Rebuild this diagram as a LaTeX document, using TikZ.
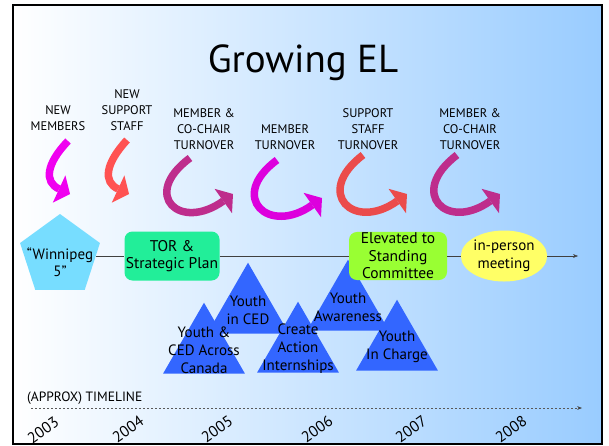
\documentclass[tikz,border=0pt]{standalone}
\usepackage{fontspec}
\setmainfont{PT Sans}
\usetikzlibrary{arrows.meta,shapes.geometric}
\definecolor{bgblue}{RGB}{153,204,255}
\definecolor{wpgcyan}{RGB}{119,221,255}
\definecolor{torgreen}{RGB}{34,238,153}
\definecolor{elevlime}{RGB}{153,255,51}
\definecolor{mtgyellow}{RGB}{255,255,102}
\definecolor{triblue}{RGB}{51,102,255}
\definecolor{magarr}{RGB}{240,0,240}
\definecolor{redarr}{RGB}{255,82,82}
\definecolor{plumarr}{RGB}{190,45,140}
\tikzset{
  hdr/.style={align=center,font=\fontsize{12.5}{16}\selectfont,inner sep=0pt},
  evt/.style={fill=#1,rounded corners=8pt,inner sep=1pt,align=center,font=\fontsize{15.5}{17.5}\selectfont},
  tri/.style={regular polygon,regular polygon sides=3,fill=triblue,minimum size=94.6pt,inner sep=0pt},
  ttxt/.style={align=center,font=\fontsize{15}{18}\selectfont,inner sep=0pt},
  curv/.style={line width=7.5pt,draw=#1,-{Triangle[length=12pt,width=30pt,line width=0pt,fill=#1]}},
  arr/.style={thin,draw=black!75,-{Stealth[length=5pt]}},
  dots/.style={thin,draw=black!65,dash pattern=on 2pt off 2pt,-{Stealth[length=5pt,fill=black]}},
  yr/.style={rotate=35,inner sep=0pt,font=\fontsize{15.5}{15.5}\selectfont},
}

\begin{document}
\begin{tikzpicture}[x=1pt,y=-1pt]
 \useasboundingbox (0,0) rectangle (609,445);
 \shade[left color=white,right color=bgblue] (13,5) rectangle (602,444);
 \draw[line width=2.5pt] (13,5) rectangle (602,444);
 \node[font=\fontsize{39}{39}\selectfont,anchor=base,inner sep=0pt] (ttl) at (303,72){Growing EL};
 \node[hdr] (nm) at (58,118){NEW\\MEMBERS}; \node[hdr] (nss) at (127,110){NEW\\SUPPORT\\STAFF};
 \node[hdr] (mct1) at (204,129){MEMBER \&\\CO-CHAIR\\TURNOVER}; \node[hdr] (mt) at (285,137){MEMBER\\TURNOVER};
 \node[hdr] (sst) at (368,129){SUPPORT\\STAFF\\TURNOVER}; \node[hdr] (mct2) at (470,129){MEMBER \&\\CO-CHAIR\\TURNOVER};
 \draw[curv=magarr](68,141) .. controls (46,164) and (44,182) .. (70,194);
 \draw[curv=redarr](127,140) .. controls (105,164) and (103,182) .. (129,194);
 \draw[curv=plumarr](190,158) .. controls (140,195) and (180,232) .. (233,194);
 \draw[curv=magarr!92!black](277,160) .. controls (227,197) and (269,236) .. (322,198);
 \draw[curv=redarr!92!black](363,155) .. controls (313,193) and (354,232) .. (407,194);
 \draw[curv=plumarr](457,155) .. controls (407,193) and (447,232) .. (500,194);
 \node[tri] (yic) at (248,310){}; \node[ttxt] (yictx) at (yic.center){Youth\\in CED};
 \node[tri] (yaw) at (348,307){}; \node[ttxt] (yawtx) at (yaw.center){Youth\\Awareness};
 \node[tri] (yca) at (204,350){}; \node[ttxt] (ycatx) at (yca.center){Youth \&\\CED Across\\Canada};
 \node[tri] (cai) at (298,349){}; \node[ttxt] (caitx) at (cai.center){Create\\Action\\Internships};
 \node[tri] (ych) at (397,347){}; \node[ttxt] (ychtx) at (ych.center){Youth\\In Charge};
 \node[regular polygon,regular polygon sides=5,fill=wpgcyan,minimum size=84pt,inner sep=0pt] (wpg) at (60,256){};
 \node[ttxt,font=\fontsize{15}{17}\selectfont] (wpgtx) at (60,262){“Winnipeg\\5”};
 \node[evt=torgreen,minimum width=95pt,minimum height=49pt] (tor) at (172,256){TOR \&\\Strategic Plan};
 \node[evt=elevlime,minimum width=98pt,minimum height=46pt] (elev) at (398,256){Elevated to\\Standing\\Committee};
 \node[ellipse,fill=mtgyellow,minimum width=70pt,minimum height=51pt,inner sep=0pt,align=center,font=\fontsize{15}{17.5}\selectfont] (mtg) at (504,256){in-person\\meeting};
 \coordinate (lnend) at (578,256);
 \draw[arr,-] (wpg.east)--(tor.west); \draw[arr,-] (tor.east)--(elev.west); \draw[arr,-] (elev.east)--(mtg.west); \draw[arr] (mtg.east)--(lnend);
 \node[anchor=west,inner sep=0pt,font=\fontsize{13.5}{13.5}\selectfont] (tl) at (27,398){(APPROX) TIMELINE};
 \coordinate (dstart) at (31,408); \coordinate (dend) at (582,408);
 \draw[dots] (dstart)--(dend);
 \node[yr] (y3) at (43,430){2003}; \node[yr] (y4) at (128,429){2004}; \node[yr] (y5) at (217,429){2005};
 \node[yr] (y6) at (317,429){2006}; \node[yr] (y7) at (411,429){2007}; \node[yr] (y8) at (511,429){2008};
\end{tikzpicture}
\end{document}
